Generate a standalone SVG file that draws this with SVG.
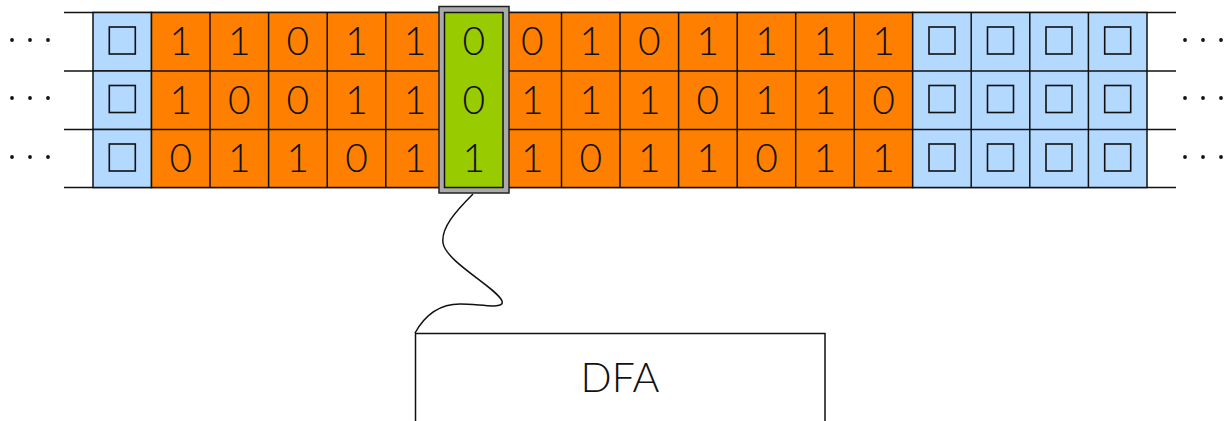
<svg xmlns="http://www.w3.org/2000/svg" width="1228" height="421" viewBox="0 0 1228 421">
<style>
.b{fill:#b3d9ff;stroke:#111;stroke-width:1.5}
.o{fill:#ff8000;stroke:#111;stroke-width:1.5}
.g{fill:#99cc00;stroke:#111;stroke-width:1.5}
.sq{fill:none;stroke:#111;stroke-width:1.6}
.t{font-family:Lato,"Open Sans",sans-serif;font-weight:300;font-size:39px;fill:#111;text-anchor:middle}
.ln{stroke:#111;stroke-width:1.5}
.dot{fill:#111}
</style>
<defs>
<rect id="bl" x="-13" y="-13.5" width="26" height="27" class="sq"/>
<g id="dots"><circle cx="13" cy="0" r="1.9" class="dot"/><circle cx="31" cy="0" r="1.9" class="dot"/><circle cx="49" cy="0" r="1.9" class="dot"/></g>
</defs>
<g id="tape-lines">
<line x1="64" y1="12.5" x2="1176" y2="12.5" class="ln"/>
<line x1="64" y1="71" x2="1176" y2="71" class="ln"/>
<line x1="64" y1="129.5" x2="1176" y2="129.5" class="ln"/>
<line x1="64" y1="187.5" x2="1176" y2="187.5" class="ln"/>
</g>
<g id="dots-left">
<use href="#dots" x="-1" y="40"/><use href="#dots" x="-1" y="98"/><use href="#dots" x="-1" y="157"/>
</g>
<g id="dots-right">
<use href="#dots" x="1172" y="40"/><use href="#dots" x="1172" y="98"/><use href="#dots" x="1172" y="157"/>
</g>
<g id="cells-blue-left">
<rect x="93" y="12.5" width="58.5" height="58.5" class="b"/>
<rect x="93" y="71" width="58.5" height="58.5" class="b"/>
<rect x="93" y="129.5" width="58.5" height="58" class="b"/>
<use href="#bl" x="122.3" y="40.5"/><use href="#bl" x="122.3" y="99"/><use href="#bl" x="122.3" y="157.5"/>
</g>
<g id="cells-orange">
<rect x="151.5" y="12.5" width="292.8" height="175" class="o"/>
<rect x="503" y="12.5" width="409.7" height="175" class="o"/>
<g class="ln">
<line x1="210" y1="12.5" x2="210" y2="187.5"/><line x1="268.6" y1="12.5" x2="268.6" y2="187.5"/><line x1="327.2" y1="12.5" x2="327.2" y2="187.5"/><line x1="385.8" y1="12.5" x2="385.8" y2="187.5"/>
<line x1="561.5" y1="12.5" x2="561.5" y2="187.5"/><line x1="620" y1="12.5" x2="620" y2="187.5"/><line x1="678.6" y1="12.5" x2="678.6" y2="187.5"/><line x1="737.2" y1="12.5" x2="737.2" y2="187.5"/><line x1="795.7" y1="12.5" x2="795.7" y2="187.5"/><line x1="854.2" y1="12.5" x2="854.2" y2="187.5"/>
<line x1="151.5" y1="71" x2="912.7" y2="71"/><line x1="151.5" y1="129.5" x2="912.7" y2="129.5"/>
</g>
</g>
<g id="cells-blue-right">
<rect x="912.7" y="12.5" width="234.3" height="175" class="b"/>
<g class="ln">
<line x1="971.2" y1="12.5" x2="971.2" y2="187.5"/><line x1="1029.8" y1="12.5" x2="1029.8" y2="187.5"/><line x1="1088.4" y1="12.5" x2="1088.4" y2="187.5"/>
<line x1="912.7" y1="71" x2="1147" y2="71"/><line x1="912.7" y1="129.5" x2="1147" y2="129.5"/>
</g>
<use href="#bl" x="942" y="40.5"/><use href="#bl" x="1000.5" y="40.5"/><use href="#bl" x="1059" y="40.5"/><use href="#bl" x="1117.7" y="40.5"/>
<use href="#bl" x="942" y="99"/><use href="#bl" x="1000.5" y="99"/><use href="#bl" x="1059" y="99"/><use href="#bl" x="1117.7" y="99"/>
<use href="#bl" x="942" y="157.5"/><use href="#bl" x="1000.5" y="157.5"/><use href="#bl" x="1059" y="157.5"/><use href="#bl" x="1117.7" y="157.5"/>
</g>
<g id="head">
<rect x="439" y="6.5" width="70" height="186.5" fill="#aaaaaa" stroke="#222" stroke-width="1.5"/>
<rect x="444.5" y="12.5" width="58.5" height="175" class="g"/>
</g>
<g id="digits" class="t">
<text x="180.8" y="55">1</text><text x="239.3" y="55">1</text><text x="297.9" y="55">0</text><text x="356.5" y="55">1</text><text x="415" y="55">1</text><text x="473.7" y="55">0</text><text x="532.3" y="55">0</text><text x="590.8" y="55">1</text><text x="649.3" y="55">0</text><text x="707.9" y="55">1</text><text x="766.5" y="55">1</text><text x="825" y="55">1</text><text x="883.5" y="55">1</text>
<text x="180.8" y="113.5">1</text><text x="239.3" y="113.5">0</text><text x="297.9" y="113.5">0</text><text x="356.5" y="113.5">1</text><text x="415" y="113.5">1</text><text x="473.7" y="113.5">0</text><text x="532.3" y="113.5">1</text><text x="590.8" y="113.5">1</text><text x="649.3" y="113.5">1</text><text x="707.9" y="113.5">0</text><text x="766.5" y="113.5">1</text><text x="825" y="113.5">1</text><text x="883.5" y="113.5">0</text>
<text x="180.8" y="172">0</text><text x="239.3" y="172">1</text><text x="297.9" y="172">1</text><text x="356.5" y="172">0</text><text x="415" y="172">1</text><text x="473.7" y="172">1</text><text x="532.3" y="172">1</text><text x="590.8" y="172">0</text><text x="649.3" y="172">1</text><text x="707.9" y="172">1</text><text x="766.5" y="172">0</text><text x="825" y="172">1</text><text x="883.5" y="172">1</text>
</g>
<g id="connectors">
<path d="M473,194 C455,212 441,228 443,243 C446,262 497,288 502,301 C505,310 480,304 460,304 C440,304 425,315 415,333" fill="none" stroke="#111" stroke-width="1.5"/>
</g>
<g id="dfa">
<rect x="415.5" y="333.5" width="409.5" height="100" fill="#fff" stroke="#111" stroke-width="1.5"/>
<text x="620" y="392" class="t" style="font-size:41px">DFA</text>
</g>
</svg>
